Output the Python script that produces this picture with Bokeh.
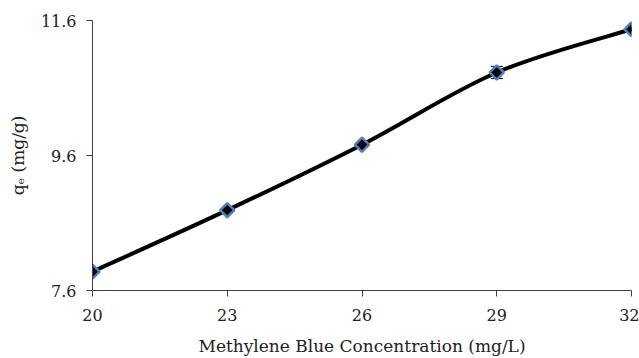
import numpy as np
from bokeh.plotting import figure
from bokeh.models import FixedTicker, Range1d, Whisker, ColumnDataSource, TeeHead
from bokeh.embed import file_html
from bokeh.resources import INLINE

conc = [20, 23, 26, 29, 32]
qe = [7.88, 8.79, 9.76, 10.83, 11.47]
err = [0.02, 0.02, 0.02, 0.09, 0.02]
x_ticks = [20, 23, 26, 29, 32]
y_ticks = [7.6, 9.6, 11.6]

FONT = "DejaVu Serif"

p = figure(width=639, height=358, output_backend="svg", toolbar_location=None,
           x_range=Range1d(20, 32), y_range=Range1d(7.6, 11.6),
           min_border_left=92, min_border_right=8, min_border_top=20, min_border_bottom=68)
p.outline_line_color = None
p.xgrid.grid_line_color = None
p.ygrid.grid_line_color = None

# smoothed curve (Excel-style) via bezier segments built from the data
xs = np.array(conc, dtype=float)
ys = np.array(qe, dtype=float)
n = len(xs)
x0s, y0s, x1s, y1s, cx0, cy0, cx1, cy1 = [], [], [], [], [], [], [], []
for i in range(n - 1):
    p0 = (xs[max(i - 1, 0)], ys[max(i - 1, 0)])
    p1 = (xs[i], ys[i])
    p2 = (xs[i + 1], ys[i + 1])
    p3 = (xs[min(i + 2, n - 1)], ys[min(i + 2, n - 1)])
    x0s.append(p1[0]); y0s.append(p1[1]); x1s.append(p2[0]); y1s.append(p2[1])
    cx0.append(p1[0] + (p2[0] - p0[0]) / 6); cy0.append(p1[1] + (p2[1] - p0[1]) / 6)
    cx1.append(p2[0] - (p3[0] - p1[0]) / 6); cy1.append(p2[1] - (p3[1] - p1[1]) / 6)
p.bezier(x0=x0s, y0=y0s, x1=x1s, y1=y1s, cx0=cx0, cy0=cy0, cx1=cx1, cy1=cy1,
         line_color="black", line_width=4)

src = ColumnDataSource(dict(x=conc, y=qe, lo=[a - b for a, b in zip(qe, err)],
                            hi=[a + b for a, b in zip(qe, err)]))
w = Whisker(source=src, base="x", upper="hi", lower="lo", line_color="black", line_width=1,
            upper_head=TeeHead(size=12, line_color="black"),
            lower_head=TeeHead(size=12, line_color="black"))
p.add_layout(w)

p.scatter(conc, qe, marker="square", angle=np.pi / 4, size=10, fill_color="black",
          line_color="#4F81BD", line_width=2.5)

p.xaxis.ticker = FixedTicker(ticks=x_ticks)
p.yaxis.ticker = FixedTicker(ticks=y_ticks)
p.yaxis.major_label_overrides = {7.6: "7.6", 9.6: "9.6", 11.6: "11.6"}
for ax in (p.xaxis[0], p.yaxis[0]):
    ax.axis_line_color = "#404040"
    ax.major_tick_line_color = "#404040"
    ax.major_tick_out = 6
    ax.major_tick_in = 0
    ax.minor_tick_line_color = None
    ax.major_label_text_font = FONT
    ax.major_label_text_font_size = "16px"
    ax.major_label_text_color = "#222222"
    ax.axis_label_text_font = FONT
    ax.axis_label_text_font_size = "17px"
    ax.axis_label_text_font_style = "normal"
    ax.axis_label_text_color = "#222222"

p.xaxis.axis_label = "Methylene Blue Concentration (mg/L)"
p.yaxis.axis_label = "qₑ (mg/g)"
p.xaxis.major_label_standoff = 12
p.yaxis.major_label_standoff = 10
p.xaxis.axis_label_standoff = 12
p.yaxis.axis_label_standoff = 10

open("out.html", "w").write(file_html(p, INLINE))
